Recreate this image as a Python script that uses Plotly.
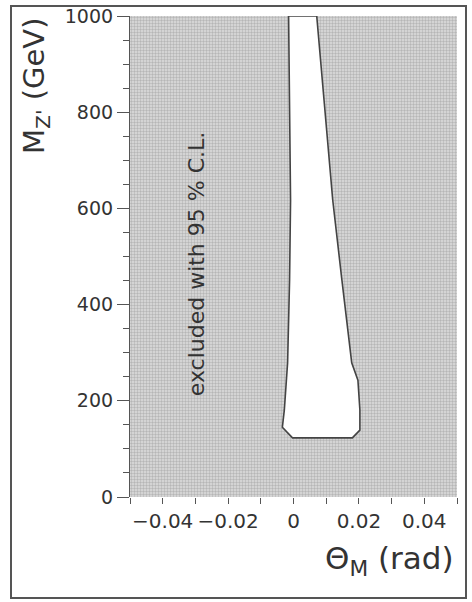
import plotly.graph_objects as go

# Axis ranges / ticks
theta_range = [-0.05, 0.05]
mass_range = [0, 1000]
x_tickvals = [-0.04, -0.02, 0, 0.02, 0.04]
x_ticktext = ["\u22120.04", "\u22120.02", "0", "0.02", "0.04"]
y_tickvals = [0, 200, 400, 600, 800, 1000]
y_ticktext = ["0", "200", "400", "600", "800", "1000"]

# Allowed (non-excluded) region boundary
allowed_theta = [-0.0015, -0.0009, -0.0012, -0.0018, -0.0028, -0.0034, -0.0003,
                 0.0180, 0.0203, 0.0203, 0.0197, 0.0178, 0.0148, 0.0120, 0.0071]
allowed_mass = [1000, 617, 451, 279, 181, 145, 123,
                123, 139, 181, 243, 279, 451, 617, 1000]

label_text = "excluded with 95 % C.L."
label_theta = -0.0298
label_mass = 484

fig = go.Figure()

# Excluded region: whole plane (axis ranges), dotted gray texture
fig.add_trace(go.Scatter(
    x=[theta_range[0], theta_range[1], theta_range[1], theta_range[0], theta_range[0]],
    y=[mass_range[0], mass_range[0], mass_range[1], mass_range[1], mass_range[0]],
    mode="lines", line=dict(width=0), fill="toself",
    fillcolor="#cfcfcf",
    fillpattern=dict(shape=".", fgcolor="#8e8e8e", bgcolor="#dedede", size=3, solidity=0.5),
    hoverinfo="skip", showlegend=False))

# Allowed region in white with outline
fig.add_trace(go.Scatter(
    x=allowed_theta + [allowed_theta[0]],
    y=allowed_mass + [allowed_mass[0]],
    mode="lines", line=dict(color="#444444", width=1.6),
    fill="toself", fillcolor="white",
    hoverinfo="skip", showlegend=False))

fig.add_annotation(x=label_theta, y=label_mass, xref="x", yref="y",
                   text=label_text, textangle=-90, showarrow=False,
                   font=dict(family="DejaVu Sans", size=22, color="#333333"))

W, H = 472, 602
L, R, T, B = 130, 15, 16, 105
pw, ph = W - L - R, H - T - B

def px(xs):
    return (xs - L) / pw

def py(ys):
    return (H - B - ys) / ph

# y title
fig.add_annotation(x=px(36), y=py(86), xref="paper", yref="paper",
                   text="M<sub>Z'</sub> (GeV)", textangle=-90, showarrow=False,
                   xanchor="center", yanchor="middle",
                   font=dict(family="DejaVu Sans", size=29, color="#333333"))
# x title
fig.add_annotation(x=px(456), y=py(560), xref="paper", yref="paper",
                   text="\u0398<sub>M</sub> (rad)", showarrow=False,
                   xanchor="right", yanchor="middle",
                   font=dict(family="DejaVu Sans", size=31, color="#333333"))

# Outer frame
fig.add_shape(type="rect", xref="paper", yref="paper",
              x0=px(11), x1=px(466), y0=py(598), y1=py(6),
              line=dict(color="#555555", width=2), layer="below")

fig.update_layout(
    width=W, height=H,
    margin=dict(l=L, r=R, t=T, b=B, autoexpand=False),
    paper_bgcolor="white", plot_bgcolor="white",
    xaxis=dict(range=theta_range, tickvals=x_tickvals, ticktext=x_ticktext,
               automargin=False,
               ticks="outside", ticklen=6, tickwidth=1.2, tickcolor="#555555",
               minor=dict(dtick=0.01, tick0=0, ticks="outside", ticklen=6, tickwidth=1.2, tickcolor="#555555"),
               showgrid=False, zeroline=False, showline=False,
               tickfont=dict(family="DejaVu Sans", size=20, color="#333333")),
    yaxis=dict(range=mass_range, tickvals=y_tickvals, ticktext=y_ticktext,
               automargin=False,
               ticks="outside", ticklen=12, tickwidth=1.2, tickcolor="#555555",
               minor=dict(dtick=50, tick0=0, ticks="outside", ticklen=6, tickwidth=1.2, tickcolor="#555555"),
               showgrid=False, zeroline=False, showline=True, linecolor="#555555", linewidth=1.2,
               tickfont=dict(family="DejaVu Sans", size=19, color="#333333")),
)

fig.write_html("out.html",
               config={"displayModeBar": False},
               post_script="document.body.style.margin='0';document.body.style.overflow='hidden';")
